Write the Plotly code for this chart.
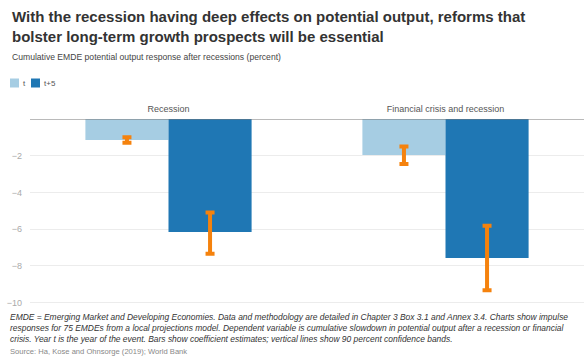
import plotly.graph_objects as go

categories = ["Recession", "Financial crisis and recession"]
t_values = [-1.15, -1.96]
t5_values = [-6.16, -7.57]
t_ci_upper = [-1.0, -1.5]
t_ci_lower = [-1.3, -2.45]
t5_ci_upper = [-5.09, -5.82]
t5_ci_lower = [-7.34, -9.33]
y_ticks = [-2, -4, -6, -8, -10]

LIGHT = "#a6cde3"
DARK = "#1f77b4"
ORANGE = "#f5820d"

xc = list(range(len(categories)))
x_t = [c - 0.15 for c in xc]
x_t5 = [c + 0.15 for c in xc]

def mid(a, b):
    return [(u + l) / 2 for u, l in zip(a, b)]

def half(a, b):
    return [(u - l) / 2 for u, l in zip(a, b)]

fig = go.Figure()
fig.add_trace(go.Bar(x=x_t, y=t_values, width=0.3, marker=dict(color=LIGHT, line=dict(width=0)), name="t"))
fig.add_trace(go.Bar(x=x_t5, y=t5_values, width=0.3, marker=dict(color=DARK, line=dict(width=0)), name="t+5"))
for xs, up, lo in [(x_t, t_ci_upper, t_ci_lower), (x_t5, t5_ci_upper, t5_ci_lower)]:
    fig.add_trace(go.Scatter(
        x=xs, y=mid(up, lo), mode="markers", marker=dict(size=1, opacity=0),
        error_y=dict(type="data", array=half(up, lo), visible=True, color=ORANGE, thickness=4, width=4.5),
        showlegend=False, hoverinfo="skip"))

fig.update_layout(
    width=584, height=362,
    margin=dict(l=30, r=0, t=119, b=54),
    paper_bgcolor="white", plot_bgcolor="white",
    showlegend=False, barmode="overlay",
    font=dict(family="Liberation Sans, Arial, sans-serif"),
    xaxis=dict(range=[-0.5, 1.5], side="top", tickmode="array", tickvals=xc, ticktext=categories,
               showgrid=False, zeroline=False, showline=False, ticks="", ticklabelstandoff=4,
               tickfont=dict(size=9, color="#555555")),
    yaxis=dict(range=[-10.3, 0], tickmode="array", tickvals=y_ticks,
               showgrid=True, gridcolor="#ececec", gridwidth=1,
               zeroline=False, showline=False, ticks="", ticklabelstandoff=7,
               tickfont=dict(size=9, color="#aaaaaa")),
    shapes=[dict(type="line", xref="paper", yref="y", x0=0, x1=1, y0=0, y1=0,
                 line=dict(color="#777777", width=1.2))],
)

def ann(text, x, y, size, color, bold=False, italic=False):
    if bold:
        text = "<b>" + text + "</b>"
    if italic:
        text = "<i>" + text + "</i>"
    fig.add_annotation(text=text, xref="paper", yref="paper", x=x, y=y, xanchor="left", yanchor="middle",
                       showarrow=False, align="left", font=dict(size=size, color=color))

H = 362.0
PB = 54.0
PH = H - 119 - PB

def py(pix):
    return (H - pix - PB) / PH

def px(pix):
    return (pix - 30) / 554.0

ann("With the recession having deep effects on potential output, reforms that", px(10), py(16), 15, "#333333", bold=True)
ann("bolster long-term growth prospects will be essential", px(10), py(36), 15, "#333333", bold=True)
ann("Cumulative EMDE potential output response after recessions (percent)", px(10), py(57), 8.6, "#444444")

# legend
fig.add_shape(type="rect", xref="paper", yref="paper", x0=px(10), x1=px(19), y0=py(87.5), y1=py(78.5),
              fillcolor=LIGHT, line=dict(width=0))
ann("t", px(21), py(83), 8, "#555555")
fig.add_shape(type="rect", xref="paper", yref="paper", x0=px(31), x1=px(40), y0=py(87.5), y1=py(78.5),
              fillcolor=DARK, line=dict(width=0))
ann("t+5", px(42), py(83), 8, "#555555")

notes = [
    "EMDE = Emerging Market and Developing Economies. Data and methodology are detailed in Chapter 3 Box 3.1 and Annex 3.4. Charts show impulse",
    "responses for 75 EMDEs from a local projections model. Dependent variable is cumulative slowdown in potential output after a recession or financial",
    "crisis. Year t is the year of the event. Bars show coefficient estimates; vertical lines show 90 percent confidence bands.",
]
for i, line in enumerate(notes):
    ann(line, px(8), py(316.5 + i * 11), 8.45, "#333333", italic=True)
ann("Source: Ha, Kose and Ohnsorge (2019); World Bank", px(8), py(351), 7.6, "#888888")

fig.write_html("out.html")
